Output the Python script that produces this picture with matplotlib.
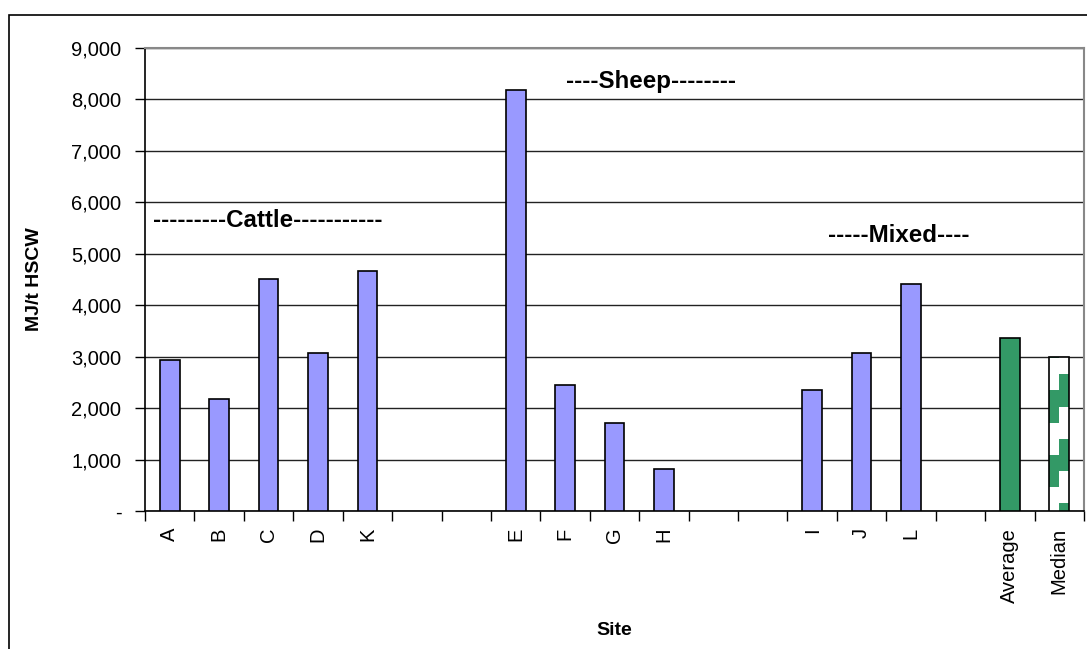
import matplotlib
matplotlib.use('Agg')
import matplotlib.pyplot as plt
import numpy as np
from matplotlib.ticker import FuncFormatter, FixedLocator
from matplotlib.patches import Rectangle

plt.rcParams['font.family'] = ['Liberation Sans', 'DejaVu Sans']

sites = ['A', 'B', 'C', 'D', 'K', '', '', 'E', 'F', 'G', 'H', '', '',
         'I', 'J', 'L', '', 'Average', 'Median']
energy = [2940, 2170, 4510, 3070, 4660, None, None, 8180, 2450, 1710, 820,
          None, None, 2355, 3065, 4420, None, 3365, 3000]
groups = ['site'] * 16 + ['none', 'average', 'median']

group_labels = ['---------Cattle-----------', '----Sheep--------', '-----Mixed----']
group_x = [-0.34, 8.02, 13.33]
group_y = [5640, 8350, 5360]

blue = '#9999ff'
green = '#339966'

fig = plt.figure(figsize=(10.87, 6.49), dpi=100)
fig.patches.append(Rectangle((9 / 1087, -0.1), 1.2, (649 - 15) / 649 + 0.1,
                             transform=fig.transFigure, fill=False,
                             edgecolor='black', linewidth=1.2))
ax = fig.add_axes([145 / 1087, (649 - 511) / 649, (1084 - 145) / 1087, (511 - 48) / 649])
ymax = 9000
ax.set_xlim(-0.5, len(sites) - 0.5)
ax.set_ylim(0, ymax)

x = np.arange(len(sites))
vals = np.array([np.nan if v is None else v for v in energy], dtype=float)
w = 0.4
for i, (v, g) in enumerate(zip(vals, groups)):
    if np.isnan(v):
        continue
    if g == 'site':
        ax.bar(x[i], v, width=w, color=blue, edgecolor='black', linewidth=1.2, zorder=3)
    elif g == 'average':
        ax.bar(x[i], v, width=w, color=green, edgecolor='black', linewidth=1.2, zorder=3)
    else:
        # white bar with Excel-like "dashed vertical" green pattern
        med = ax.bar(x[i], v, width=w, color='white', linewidth=0, zorder=3)[0]
        row_h = 8 / (ax.bbox.height / ymax)
        n_rows = int(np.ceil(v / row_h)) + 1
        tex = np.ones((n_rows, 2, 3))
        g_rgb = np.array([51, 153, 102]) / 255
        for r in range(n_rows):
            ph = r % 8
            if ph in (5, 6, 7, 0):
                tex[r, 1] = g_rgb
            if ph in (3, 4, 5, 6):
                tex[r, 0] = g_rgb
        im = ax.imshow(tex, origin='lower', interpolation='nearest', aspect='auto',
                       extent=(med.get_x(), med.get_x() + med.get_width(), 0, n_rows * row_h),
                       zorder=3.5)
        im.set_clip_path(med)
        ax.bar(x[i], v, width=w, fill=False, edgecolor='black', linewidth=1.2, zorder=4)

ax.set_xlim(-0.5, len(sites) - 0.5)
ax.set_ylim(0, ymax)
ax.set_yticks(np.arange(0, ymax + 1, 1000))
ax.yaxis.set_major_formatter(FuncFormatter(lambda v, p: '-' if v == 0 else '{:,.0f}'.format(v)))
ax.yaxis.grid(True, color='#222222', linewidth=1)
ax.set_axisbelow(True)

ax.xaxis.set_major_locator(FixedLocator(np.arange(-0.5, len(sites), 1)))
ax.xaxis.set_major_formatter(FuncFormatter(lambda v, p: ''))
ax.xaxis.set_minor_locator(FixedLocator(x))
ax.set_xticklabels(sites, minor=True, rotation=90)
ax.tick_params(axis='x', which='minor', length=0, pad=12, labelsize=14.5)
ax.tick_params(axis='x', which='major', length=7, direction='out', width=1)
ax.tick_params(axis='y', length=7, direction='out', width=1, labelsize=14.5, pad=10)

for side in ['top', 'right']:
    ax.spines[side].set_color('#888888')
    ax.spines[side].set_linewidth(1.5)
for side in ['left', 'bottom']:
    ax.spines[side].set_linewidth(1.2)

ax.set_ylabel('MJ/t HSCW', fontsize=14, fontweight='bold')
ax.yaxis.set_label_coords((43 - 145) / 939, 0.5)
ax.set_xlabel('Site', fontsize=14, fontweight='bold')
ax.xaxis.set_label_coords(0.5, -0.24)

for lab, gx, gy in zip(group_labels, group_x, group_y):
    ax.text(gx, gy, lab, fontsize=17.4, fontweight='bold', ha='left', va='center', zorder=5)

fig.savefig('out.png', dpi=100)
